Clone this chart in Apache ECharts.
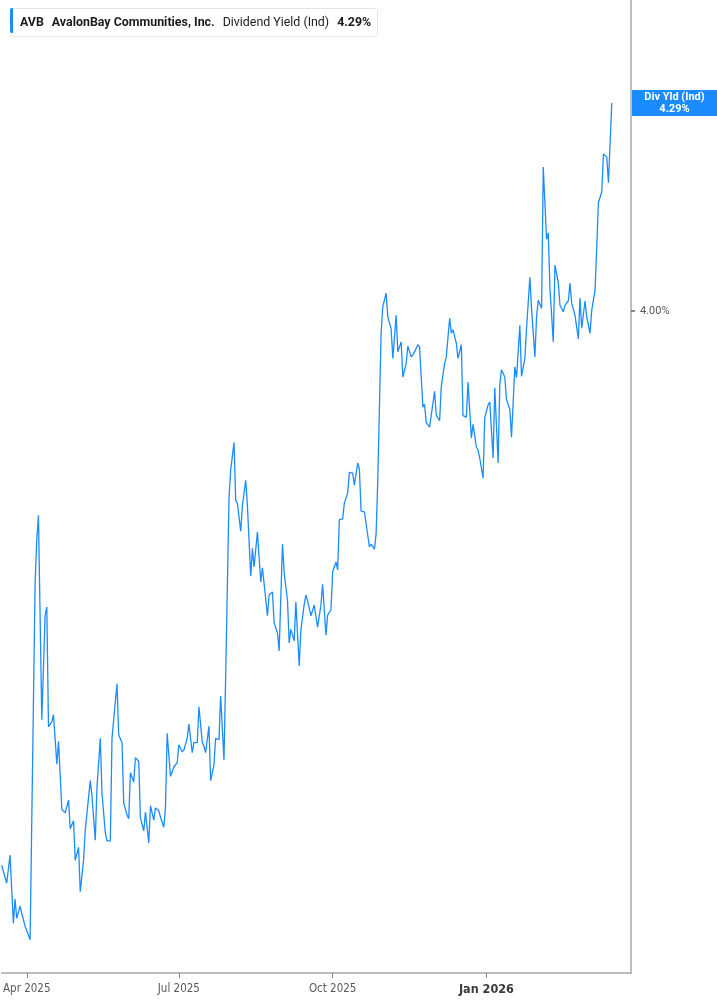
<!DOCTYPE html>
<html>
<head>
<meta charset="utf-8">
<script src="https://cdn.jsdelivr.net/npm/echarts@6/dist/echarts.min.js"></script>
<style>
  html, body { margin: 0; padding: 0; background: #fff; }
  #chart { width: 717px; height: 1005px; }
</style>
</head>
<body>
<div id="chart"></div>
<script>
const ticker = 'AVB';
const companyName = 'AvalonBay Communities, Inc.';
const metricName = 'Dividend Yield (Ind)';
const shortMetricName = 'Div Yld (Ind)';

const dates = [
'2025-03-17','2025-03-18','2025-03-20','2025-03-22','2025-03-24','2025-03-25','2025-03-26','2025-03-28','2025-03-29','2025-03-31',
'2025-04-01','2025-04-03','2025-04-06','2025-04-07','2025-04-08','2025-04-10','2025-04-12','2025-04-13','2025-04-14','2025-04-16',
'2025-04-17','2025-04-19','2025-04-20','2025-04-22','2025-04-23','2025-04-24','2025-04-26','2025-04-27','2025-04-29','2025-04-30',
'2025-05-02','2025-05-03','2025-05-05','2025-05-06','2025-05-07','2025-05-09','2025-05-10','2025-05-12','2025-05-13','2025-05-15',
'2025-05-16','2025-05-18','2025-05-19','2025-05-21','2025-05-22','2025-05-23','2025-05-25','2025-05-26','2025-05-28','2025-05-29',
'2025-05-31','2025-06-01','2025-06-02','2025-06-04','2025-06-05','2025-06-07','2025-06-08','2025-06-10','2025-06-11','2025-06-13',
'2025-06-14','2025-06-16','2025-06-17','2025-06-19','2025-06-20','2025-06-22','2025-06-23','2025-06-24','2025-06-26','2025-06-27',
'2025-06-28','2025-06-30','2025-07-01','2025-07-03','2025-07-04','2025-07-06','2025-07-07','2025-07-09','2025-07-10','2025-07-12',
'2025-07-13','2025-07-15','2025-07-16','2025-07-17','2025-07-19','2025-07-20','2025-07-22','2025-07-23','2025-07-25','2025-07-26',
'2025-07-28','2025-07-29','2025-07-31','2025-08-01','2025-08-03','2025-08-04','2025-08-05','2025-08-07','2025-08-08','2025-08-10',
'2025-08-11','2025-08-13','2025-08-14','2025-08-15','2025-08-17','2025-08-19','2025-08-20','2025-08-21','2025-08-23','2025-08-24',
'2025-08-26','2025-08-27','2025-08-29','2025-08-30','2025-09-01','2025-09-02','2025-09-04','2025-09-05','2025-09-06','2025-09-08',
'2025-09-09','2025-09-11','2025-09-12','2025-09-14','2025-09-15','2025-09-16','2025-09-18','2025-09-20','2025-09-22','2025-09-24',
'2025-09-25','2025-09-27','2025-09-28','2025-09-30','2025-10-01','2025-10-03','2025-10-04','2025-10-05','2025-10-07','2025-10-08',
'2025-10-10','2025-10-11','2025-10-13','2025-10-14','2025-10-16','2025-10-17','2025-10-18','2025-10-20','2025-10-21','2025-10-23',
'2025-10-24','2025-10-26','2025-10-27','2025-10-28','2025-10-30','2025-10-31','2025-11-02','2025-11-03','2025-11-05','2025-11-06',
'2025-11-08','2025-11-09','2025-11-11','2025-11-12','2025-11-14','2025-11-15','2025-11-17','2025-11-18','2025-11-19','2025-11-21',
'2025-11-22','2025-11-24','2025-11-25','2025-11-26','2025-11-28','2025-11-29','2025-12-01','2025-12-02','2025-12-04','2025-12-05',
'2025-12-07','2025-12-08','2025-12-10','2025-12-11','2025-12-12','2025-12-14','2025-12-15','2025-12-17','2025-12-18','2025-12-20',
'2025-12-21','2025-12-23','2025-12-24','2025-12-26','2025-12-27','2025-12-28','2025-12-30','2025-12-31','2026-01-02','2026-01-03',
'2026-01-05','2026-01-06','2026-01-08','2026-01-09','2026-01-10','2026-01-12','2026-01-13','2026-01-15','2026-01-16','2026-01-18',
'2026-01-19','2026-01-21','2026-01-22','2026-01-24','2026-01-25','2026-01-27','2026-01-28','2026-01-30','2026-01-31','2026-02-01',
'2026-02-03','2026-02-04','2026-02-06','2026-02-07','2026-02-08','2026-02-10','2026-02-11','2026-02-13','2026-02-14','2026-02-16',
'2026-02-17','2026-02-19','2026-02-20','2026-02-21','2026-02-23','2026-02-25','2026-02-26','2026-02-27','2026-03-01','2026-03-02',
'2026-03-04','2026-03-05','2026-03-07','2026-03-08','2026-03-09','2026-03-11','2026-03-12','2026-03-14','2026-03-15','2026-03-17'
];

const yields = [
3.227,3.225,3.202,3.241,3.146,3.180,3.153,3.170,3.160,3.142,
3.142,3.123,3.621,3.681,3.715,3.430,3.576,3.587,3.420,3.427,
3.437,3.368,3.400,3.305,3.305,3.300,3.318,3.278,3.289,3.234,
3.252,3.190,3.234,3.276,3.276,3.345,3.324,3.262,3.336,3.404,
3.328,3.272,3.261,3.261,3.404,3.430,3.480,3.409,3.398,3.314,
3.297,3.292,3.356,3.343,3.377,3.372,3.293,3.275,3.301,3.258,
3.310,3.290,3.307,3.303,3.294,3.280,3.308,3.411,3.351,3.349,
3.364,3.370,3.395,3.385,3.388,3.404,3.424,3.384,3.398,3.398,
3.448,3.399,3.393,3.384,3.421,3.345,3.367,3.404,3.402,3.463,
3.374,3.490,3.739,3.778,3.817,3.736,3.732,3.693,3.728,3.764,
3.729,3.630,3.669,3.643,3.692,3.622,3.642,3.644,3.575,3.604,
3.608,3.565,3.551,3.526,3.675,3.635,3.596,3.537,3.556,3.540,
3.594,3.505,3.555,3.591,3.604,3.596,3.575,3.590,3.559,3.590,
3.619,3.548,3.576,3.583,3.636,3.650,3.639,3.709,3.710,3.732,
3.746,3.775,3.774,3.757,3.788,3.780,3.721,3.720,3.718,3.671,
3.675,3.668,3.689,3.764,3.969,4.006,4.025,3.992,3.975,3.934,
3.994,3.943,3.957,3.908,3.927,3.951,3.936,3.939,3.943,3.953,
3.950,3.866,3.870,3.844,3.838,3.837,3.888,3.855,3.847,3.895,
3.927,3.936,3.990,3.969,3.974,3.955,3.934,3.953,3.854,3.852,
3.901,3.823,3.842,3.810,3.806,3.795,3.767,3.851,3.869,3.873,
3.795,3.893,3.788,3.897,3.918,3.908,3.877,3.863,3.824,3.922,
3.907,3.980,3.909,3.934,3.976,4.047,4.004,3.936,3.992,4.015,
4.004,4.201,4.100,4.109,4.032,3.957,4.064,4.040,4.008,3.999,
4.008,4.014,4.039,4.011,3.994,3.961,4.018,3.976,4.014,3.992,
3.969,4.001,4.029,4.089,4.151,4.166,4.219,4.215,4.179,4.290
];

const xTickDates = ['2025-04-01', '2025-07-01', '2025-10-01', '2026-01-01'];
const xTickLabels = ['Apr 2025', 'Jul 2025', 'Oct 2025', 'Jan 2026'];
const xBoldLabel = 'Jan 2026';
const yTickValues = [4.00];
const xRange = ['2025-03-17', '2026-03-28T12:00'];
const yRange = [3.0767, 4.4338];

function ts(s) {
  const parts = s.split('T');
  const dmy = parts[0].split('-').map(Number);
  let h = 0, mi = 0;
  if (parts[1]) { const hm = parts[1].split(':').map(Number); h = hm[0]; mi = hm[1]; }
  return Date.UTC(dmy[0], dmy[1] - 1, dmy[2], h, mi);
}

const blue = '#1a8cff';
const axisGray = '#a8a8a8';
const labelFont = "'Liberation Sans Narrow', 'DejaVu Sans Condensed', Roboto, sans-serif";
const uiFont = "Roboto, 'Liberation Sans', sans-serif";

const seriesData = dates.map((d, i) => [ts(d), yields[i]]);
const tickTs = xTickDates.map(ts);
const lastVal = yields[yields.length - 1];
const lastTxt = lastVal.toFixed(2) + '%';

const chart = echarts.init(document.getElementById('chart'), null, { renderer: 'canvas' });

chart.setOption({
  animation: false,
  backgroundColor: '#ffffff',
  grid: { left: 0, right: 86, top: 0, bottom: 32, containLabel: false },
  title: {
    text: '{b|' + ticker + '}{g|}{b|' + companyName + '}{g|}{n|' + metricName + '}{g|}{b|' + lastTxt + '}',
    left: 10, top: 8,
    padding: [6, 7, 5, 10],
    backgroundColor: '#ffffff',
    borderColor: '#e4e4e4', borderWidth: 1, borderRadius: 3,
    textStyle: {
      rich: {
        b: { fontFamily: uiFont, fontSize: 12.4, fontWeight: 'bold', color: '#1c1c1c' },
        n: { fontFamily: uiFont, fontSize: 12.4, fontWeight: 'normal', color: '#1c1c1c' },
        g: { width: 8 }
      }
    }
  },
  xAxis: {
    type: 'value',
    min: ts(xRange[0]), max: ts(xRange[1]),
    splitLine: { show: false },
    axisLine: { show: true, lineStyle: { color: axisGray, width: 1.5 } },
    axisTick: { show: true, customValues: tickTs, length: 5, lineStyle: { color: '#888', width: 1 } },
    axisLabel: {
      customValues: tickTs,
      margin: 10,
      formatter: function (val) {
        let idx = -1;
        for (let i = 0; i < tickTs.length; i++) { if (Math.abs(tickTs[i] - val) < 1000) idx = i; }
        if (idx < 0) return '';
        const t = xTickLabels[idx];
        return t === xBoldLabel ? '{bold|' + t + '}' : '{reg|' + t + '}';
      },
      rich: {
        reg: { fontFamily: labelFont, fontSize: 11.5, color: '#5a5a5a' },
        bold: { fontFamily: labelFont, fontSize: 12.5, fontWeight: 'bold', color: '#3a3a3a' }
      }
    }
  },
  yAxis: {
    type: 'value',
    position: 'right',
    min: yRange[0], max: yRange[1],
    splitLine: { show: false },
    axisLine: { show: true, lineStyle: { color: axisGray, width: 1.5 } },
    axisTick: { show: true, customValues: yTickValues, length: 4, lineStyle: { color: '#666', width: 1.5 } },
    axisLabel: {
      customValues: yTickValues,
      margin: 9,
      fontFamily: uiFont, fontSize: 11, color: '#5a5a5a',
      formatter: function (v) { return Number(v).toFixed(2) + '%'; }
    }
  },
  series: [{
    type: 'line',
    data: seriesData,
    showSymbol: false,
    symbol: 'none',
    lineStyle: { color: blue, width: 1.3 },
    clip: true
  }]
});

const py = chart.convertToPixel({ yAxisIndex: 0 }, lastVal);
chart.setOption({
  graphic: [
    { type: 'rect', left: 10, top: 8, shape: { width: 3, height: 25, r: [2, 0, 0, 2] }, style: { fill: blue }, z: 100 },
    { type: 'rect', x: 632, y: py - 13, shape: { width: 85, height: 26 }, style: { fill: blue }, z: 100 },
    { type: 'text', x: 674.5, y: py, z: 101,
      style: { text: shortMetricName + '\n' + lastTxt, fill: '#fff', font: "bold 11px " + uiFont,
               align: 'center', verticalAlign: 'middle', lineHeight: 12 } }
  ]
});
</script>
</body>
</html>
